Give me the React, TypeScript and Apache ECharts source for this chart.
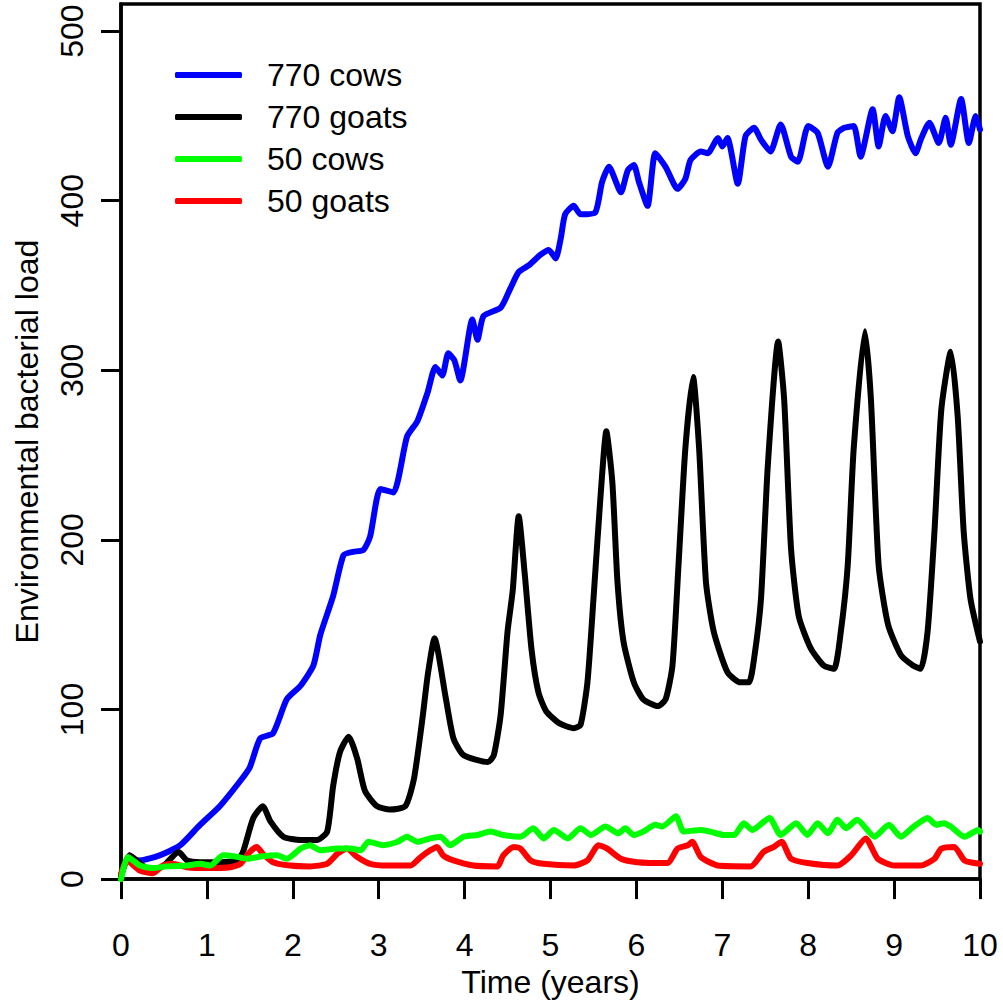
import React, { useEffect, useRef } from "react";
import * as echarts from "echarts";

const seriesNames = ["770 cows", "770 goats", "50 cows", "50 goats"];
const seriesColors = ["#0000FF", "#000000", "#00FF00", "#FF0000"];
const xTicks = [0, 1, 2, 3, 4, 5, 6, 7, 8, 9, 10];
const yTicks = [0, 100, 200, 300, 400, 500];

const cows770T = [0, 0.08, 0.22, 0.45, 0.69, 0.92, 1.15, 1.39, 1.5, 1.62, 1.77, 1.93, 2.09, 2.24, 2.32, 2.47, 2.59, 2.7, 2.82, 2.9, 3.02, 3.17, 3.33, 3.45, 3.57, 3.66, 3.74, 3.81, 3.88, 3.95, 4.09, 4.15, 4.22, 4.42, 4.53, 4.63, 4.75, 4.88, 4.98, 5.06, 5.12, 5.17, 5.27, 5.35, 5.52, 5.6, 5.68, 5.82, 5.9, 5.97, 6.03, 6.13, 6.22, 6.34, 6.48, 6.57, 6.63, 6.75, 6.83, 6.95, 7.0, 7.06, 7.18, 7.27, 7.37, 7.45, 7.56, 7.68, 7.8, 7.88, 8.0, 8.11, 8.23, 8.34, 8.42, 8.53, 8.61, 8.75, 8.82, 8.9, 8.98, 9.06, 9.16, 9.25, 9.31, 9.41, 9.52, 9.6, 9.66, 9.78, 9.87, 9.95, 10];
const cows770V = [2, 12, 11, 14, 20, 32, 43, 58, 66, 83, 86, 106, 114, 126, 144, 167, 191, 193, 194, 202, 230, 228, 261, 270, 287, 302, 297, 310, 306, 294, 330, 318, 332, 337, 348, 358, 362, 368, 371, 366, 378, 392, 397, 392, 393, 411, 420, 405, 418, 421, 411, 397, 428, 420, 407, 413, 424, 429, 428, 437, 432, 437, 410, 438, 443, 436, 429, 445, 426, 423, 444, 440, 420, 440, 443, 444, 426, 454, 432, 450, 441, 461, 438, 428, 436, 446, 434, 449, 433, 460, 434, 450, 442];

const goats770T = [0, 0.1, 0.25, 0.37, 0.5, 0.67, 0.77, 0.92, 1.15, 1.35, 1.42, 1.54, 1.65, 1.74, 1.89, 2.09, 2.28, 2.4, 2.47, 2.55, 2.65, 2.75, 2.84, 2.98, 3.13, 3.31, 3.41, 3.51, 3.57, 3.65, 3.78, 3.87, 3.99, 4.27, 4.34, 4.42, 4.5, 4.56, 4.63, 4.7, 4.78, 4.86, 4.95, 5.1, 5.27, 5.35, 5.43, 5.5, 5.58, 5.65, 5.72, 5.78, 5.85, 5.97, 6.08, 6.25, 6.34, 6.42, 6.49, 6.57, 6.66, 6.73, 6.81, 6.9, 7.06, 7.21, 7.31, 7.37, 7.45, 7.53, 7.65, 7.72, 7.8, 7.89, 8.03, 8.18, 8.3, 8.38, 8.46, 8.53, 8.66, 8.73, 8.82, 8.93, 9.08, 9.22, 9.31, 9.39, 9.47, 9.55, 9.66, 9.74, 9.81, 9.89, 10];
const goats770V = [2, 14, 8, 5, 8, 16, 11, 10, 10, 11, 16, 36, 43, 34, 25, 23, 23, 28, 55, 75, 84, 71, 52, 43, 41, 43, 59, 95, 120, 142, 107, 83, 73, 69, 73, 97, 146, 170, 214, 180, 135, 110, 99, 92, 89, 91, 116, 165, 224, 264, 234, 175, 140, 116, 106, 102, 106, 126, 185, 254, 296, 254, 175, 146, 122, 116, 116, 130, 165, 244, 317, 283, 195, 155, 136, 126, 124, 146, 185, 254, 323, 283, 185, 150, 132, 126, 124, 146, 205, 277, 311, 273, 205, 165, 140];

const cows50T = [0, 0.08, 0.22, 0.37, 0.53, 0.77, 0.92, 1.04, 1.19, 1.31, 1.47, 1.65, 1.82, 1.93, 2.09, 2.2, 2.32, 2.52, 2.67, 2.79, 2.88, 3.05, 3.22, 3.33, 3.45, 3.6, 3.72, 3.83, 3.99, 4.15, 4.3, 4.45, 4.65, 4.8, 4.92, 5.04, 5.2, 5.35, 5.47, 5.64, 5.79, 5.87, 5.97, 6.08, 6.22, 6.3, 6.46, 6.55, 6.75, 6.86, 7.02, 7.14, 7.25, 7.35, 7.55, 7.68, 7.86, 7.99, 8.11, 8.23, 8.34, 8.44, 8.57, 8.77, 8.94, 9.08, 9.23, 9.39, 9.49, 9.58, 9.66, 9.82, 9.98, 10];
const cows50V = [0, 13, 8, 6.5, 7.5, 8, 9, 8, 14, 13.5, 12, 13.5, 14, 12, 18, 20, 17, 18, 18, 17, 22, 20, 22, 25, 22, 24, 25, 20, 25, 26, 28, 26, 25, 30, 24, 29, 24, 30, 26, 31, 27, 30, 26, 28, 32, 31, 37, 28, 29, 28, 26, 26, 33, 29, 36, 26, 33, 26, 33, 27, 35, 30, 35, 25, 32, 25, 31, 36, 32, 33, 31, 25, 29, 28];

const goats50T = [0, 0.07, 0.22, 0.37, 0.49, 0.6, 0.77, 1.0, 1.27, 1.39, 1.5, 1.58, 1.65, 1.77, 1.97, 2.2, 2.4, 2.52, 2.63, 2.75, 2.9, 3.1, 3.37, 3.49, 3.6, 3.68, 3.75, 3.87, 4.1, 4.38, 4.45, 4.57, 4.65, 4.77, 4.92, 5.27, 5.43, 5.56, 5.66, 5.82, 6.01, 6.36, 6.48, 6.6, 6.65, 6.75, 6.95, 7.33, 7.48, 7.6, 7.69, 7.8, 7.99, 8.34, 8.5, 8.67, 8.81, 9.0, 9.31, 9.47, 9.55, 9.7, 9.82, 10];
const goats50V = [3, 11, 5, 3.5, 8, 9, 7, 6.5, 7, 9, 16, 19, 15, 10, 8, 7.5, 9, 15, 18, 13, 9, 8, 8, 13, 17, 19, 14, 11, 8, 7.5, 14, 19, 18, 11, 9, 8, 11, 20, 18, 12, 10, 9.5, 18, 20, 22, 13, 8, 7.5, 16, 19, 22, 12, 9.5, 8, 14, 24, 12, 8, 8, 12, 18, 19, 11, 9];

const FONT = "'Liberation Sans', Arial, sans-serif";

function pairs(t: number[], v: number[]) {
  return t.map((x, i) => [x, v[i]]);
}

export default function App() {
  const ref = useRef<HTMLDivElement>(null);
  useEffect(() => {
    if (!ref.current) return;
    const chart = echarts.init(ref.current, null, { renderer: "svg" });
    const dataSets = [
      pairs(cows770T, cows770V),
      pairs(goats770T, goats770V),
      pairs(cows50T, cows50V),
      pairs(goats50T, goats50V),
    ];
    const drawOrder = [0, 1, 3, 2];
    chart.setOption({
      animation: false,
      backgroundColor: "#ffffff",
      grid: {
        left: 121,
        right: 23,
        top: 4,
        bottom: 122,
        show: true,
        borderColor: "#000",
        borderWidth: 3.5,
        containLabel: false,
      },
      legend: {
        data: seriesNames,
        orient: "vertical",
        left: 170,
        top: 54,
        itemWidth: 67,
        itemHeight: 6,
        itemGap: 10,
        icon: "roundRect",
        textStyle: {
          fontFamily: FONT,
          fontSize: 32,
          color: "#000",
          lineHeight: 32,
          padding: [0, 0, 0, 20],
        },
      },
      xAxis: {
        type: "value",
        min: 0,
        max: 10,
        interval: 1,
        name: "Time (years)",
        nameLocation: "middle",
        nameGap: 80,
        nameTextStyle: { fontFamily: FONT, fontSize: 32, color: "#000" },
        axisLine: { show: true, onZero: false, lineStyle: { color: "#000", width: 3.5 } },
        axisTick: { show: true, length: 20, lineStyle: { color: "#000", width: 3 }, customValues: xTicks },
        axisLabel: { fontFamily: FONT, fontSize: 32, color: "#000", margin: 50, customValues: xTicks },
        splitLine: { show: false },
      },
      yAxis: {
        type: "value",
        min: 0,
        max: 516,
        name: "Environmental bacterial load",
        nameLocation: "middle",
        nameGap: 78,
        nameTextStyle: { fontFamily: FONT, fontSize: 32, color: "#000" },
        axisLine: { show: true, onZero: false, lineStyle: { color: "#000", width: 3.5 } },
        axisTick: { show: true, length: 20, lineStyle: { color: "#000", width: 3 }, customValues: yTicks },
        axisLabel: { fontFamily: FONT, fontSize: 32, color: "#000", margin: 33, rotate: 90, customValues: yTicks },
        splitLine: { show: false },
      },
      series: drawOrder.map((i) => ({
        name: seriesNames[i],
        type: "line",
        data: dataSets[i],
        showSymbol: false,
        symbol: "none",
        smooth: 0.2,
        color: seriesColors[i],
        lineStyle: { color: seriesColors[i], width: 6, cap: "round", join: "round" },
        z: 2 + drawOrder.indexOf(i),
      })),
    });
    return () => chart.dispose();
  }, []);
  return (
    <div
      ref={ref}
      style={{ position: "fixed", left: 0, top: 0, width: 1003, height: 1003, background: "#fff" }}
    />
  );
}
